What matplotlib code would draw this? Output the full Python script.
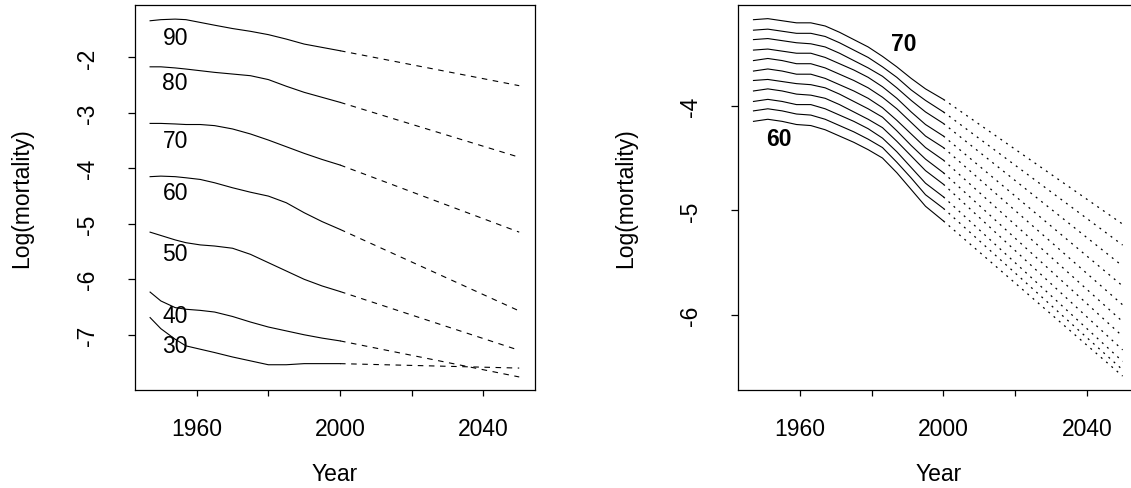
import matplotlib
matplotlib.use("Agg")
import matplotlib.pyplot as plt

plt.rcParams['font.family'] = ['Liberation Sans', 'DejaVu Sans']
plt.rcParams['lines.scale_dashes'] = False
plt.rcParams['axes.unicode_minus'] = False

# left panel: ages 30..90, observed to 2000, forecast to 2050
ages_left = [30, 40, 50, 60, 70, 80, 90]
years_left = [1947, 1950, 1954, 1957, 1961, 1965, 1970, 1975, 1980, 1985, 1990, 1995, 2000]
obs_left = [
    [-6.69, -6.89, -7.08, -7.20, -7.26, -7.32, -7.40, -7.47, -7.54, -7.54, -7.52, -7.52, -7.52],
    [-6.23, -6.39, -6.51, -6.54, -6.56, -6.59, -6.67, -6.77, -6.86, -6.93, -7.00, -7.06, -7.11],
    [-5.15, -5.21, -5.29, -5.34, -5.38, -5.40, -5.44, -5.55, -5.70, -5.85, -6.00, -6.12, -6.22],
    [-4.15, -4.14, -4.15, -4.17, -4.20, -4.26, -4.35, -4.43, -4.50, -4.62, -4.80, -4.96, -5.10],
    [-3.19, -3.19, -3.20, -3.21, -3.21, -3.23, -3.29, -3.38, -3.49, -3.61, -3.73, -3.84, -3.94],
    [-2.17, -2.17, -2.19, -2.21, -2.24, -2.27, -2.30, -2.33, -2.40, -2.52, -2.63, -2.72, -2.81],
    [-1.34, -1.32, -1.31, -1.32, -1.37, -1.42, -1.48, -1.53, -1.59, -1.67, -1.76, -1.82, -1.88],
]
end_left = [-7.60, -7.76, -7.28, -6.57, -5.15, -3.80, -2.51]
label_y_left = [-7.19, -6.66, -5.53, -4.44, -3.49, -2.46, -1.65]

# right panel: single ages 60..70
ages_right = list(range(60, 71))
years_right = [1947, 1951, 1955, 1959, 1963, 1967, 1971, 1975, 1979, 1983, 1987, 1991, 1995, 2000]
obs_right = [
    [-4.15, -4.13, -4.15, -4.18, -4.19, -4.23, -4.29, -4.35, -4.42, -4.50, -4.64, -4.80, -4.96, -5.10],
    [-4.05, -4.03, -4.05, -4.08, -4.09, -4.13, -4.19, -4.25, -4.32, -4.40, -4.54, -4.69, -4.85, -4.98],
    [-3.96, -3.94, -3.96, -3.99, -3.99, -4.03, -4.09, -4.15, -4.22, -4.31, -4.44, -4.59, -4.74, -4.87],
    [-3.86, -3.84, -3.86, -3.89, -3.90, -3.93, -3.99, -4.06, -4.13, -4.21, -4.34, -4.48, -4.62, -4.75],
    [-3.76, -3.75, -3.77, -3.79, -3.80, -3.83, -3.89, -3.96, -4.03, -4.11, -4.24, -4.38, -4.51, -4.64],
    [-3.67, -3.65, -3.67, -3.70, -3.70, -3.74, -3.80, -3.86, -3.93, -4.02, -4.14, -4.27, -4.40, -4.52],
    [-3.57, -3.55, -3.57, -3.60, -3.60, -3.64, -3.70, -3.76, -3.83, -3.92, -4.03, -4.16, -4.29, -4.40],
    [-3.47, -3.46, -3.48, -3.50, -3.50, -3.54, -3.60, -3.66, -3.73, -3.82, -3.93, -4.06, -4.18, -4.29],
    [-3.37, -3.36, -3.38, -3.40, -3.41, -3.44, -3.50, -3.57, -3.64, -3.72, -3.83, -3.95, -4.06, -4.17],
    [-3.28, -3.27, -3.29, -3.31, -3.31, -3.34, -3.40, -3.47, -3.54, -3.63, -3.73, -3.85, -3.95, -4.06],
    [-3.18, -3.17, -3.19, -3.21, -3.21, -3.24, -3.30, -3.37, -3.44, -3.53, -3.63, -3.74, -3.84, -3.94],
]
end_right = [-6.58, -6.52, -6.44, -6.33, -6.20, -6.06, -5.90, -5.72, -5.53, -5.33, -5.13]

fc_year = 2050
fs = 16.5

fig = plt.figure(figsize=(11.31, 4.89), dpi=100)
ax1 = fig.add_axes([0.1194, 0.2010, 0.3533, 0.7867])
ax2 = fig.add_axes([0.6529, 0.2010, 0.3533, 0.7867])

for i in range(len(ages_left)):
    ax1.plot(years_left, obs_left[i], color='black', lw=0.8)
    ax1.plot([years_left[-1], fc_year], [obs_left[i][-1], end_left[i]],
             color='black', lw=0.8, linestyle=(0, (4, 4)))
    ax1.text(1954, label_y_left[i], str(ages_left[i]), ha='center', va='center', fontsize=fs)

for i in range(len(ages_right)):
    ax2.plot(years_right, obs_right[i], color='black', lw=0.8)
    ax2.plot([years_right[-1], fc_year], [obs_right[i][-1], end_right[i]],
             color='black', lw=0.9, linestyle=(0, (1.4, 3.6)))
ax2.text(1954, -4.31, '60', ha='center', va='center', fontsize=fs, fontweight='bold')
ax2.text(1989, -3.41, '70', ha='center', va='center', fontsize=fs, fontweight='bold')

ax1.set_ylim(-7.99, -1.056)
ax1.set_yticks([-7, -6, -5, -4, -3, -2])
ax2.set_ylim(-6.71, -3.04)
ax2.set_yticks([-6, -5, -4])

for ax in (ax1, ax2):
    ax.set_xlim(1942.8, 2054.3)
    ax.set_xticks([1960, 1980, 2000, 2020, 2040])
    ax.set_xticklabels(['1960', '', '2000', '', '2040'])
    for s in ax.spines.values():
        s.set_linewidth(0.9)
    ax.tick_params(axis='x', direction='out', length=4, width=0.9, pad=16, labelsize=fs)
    ax.tick_params(axis='y', direction='out', length=5, width=0.9, pad=21, labelsize=fs,
                   labelrotation=90)
    for t in ax.get_yticklabels():
        t.set_va('center')
    ax.set_xlabel('Year', fontsize=fs, va='center')
    ax.set_ylabel('Log(mortality)', fontsize=fs, va='center')
    ax.xaxis.set_label_coords(0.5, -0.219)
    ax.yaxis.set_label_coords(-0.283, 0.5)

fig.savefig('out.png', dpi=100)
